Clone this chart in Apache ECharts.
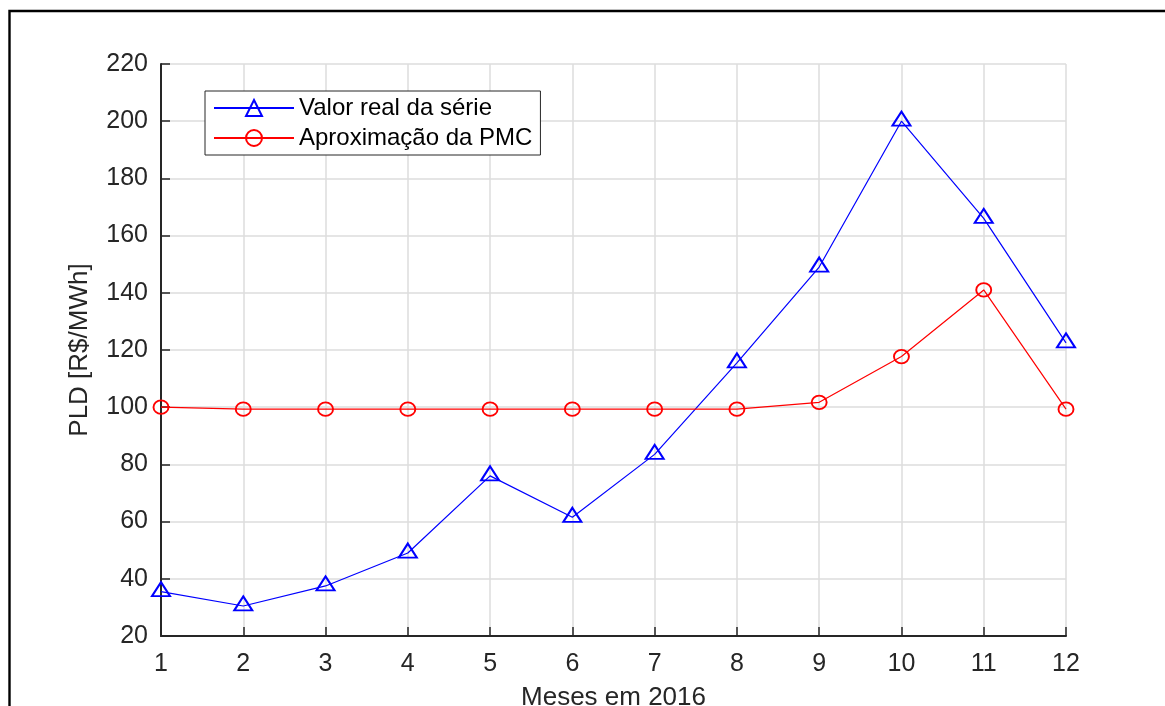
<!DOCTYPE html>
<html>
<head>
<meta charset="utf-8">
<script src="https://cdn.jsdelivr.net/npm/echarts@6/dist/echarts.min.js"></script>
<style>
html,body{margin:0;padding:0;background:#fff;}
#chart{width:1165px;height:706px;}
</style>
</head>
<body>
<div id="chart"></div>
<script>
const months = [1, 2, 3, 4, 5, 6, 7, 8, 9, 10, 11, 12];
const realValues = [35.5, 30.5, 37.5, 49, 76, 61.5, 83.5, 115.5, 149, 200, 166, 122.5];
const pmcValues = [100, 99.3, 99.3, 99.3, 99.3, 99.3, 99.3, 99.3, 101.7, 117.7, 141, 99.3];
const seriesNames = ['Valor real da série', 'Aproximação da PMC'];
const xAxisName = 'Meses em 2016';
const yAxisName = 'PLD [R$/MWh]';

const FONT = "'Liberation Sans', Arial, Helvetica, sans-serif";
const TXT = '#262626';

const chart = echarts.init(document.getElementById('chart'), null, {renderer: 'canvas', width: 1165, height: 706});

const option = {
  animation: false,
  backgroundColor: '#ffffff',
  textStyle: {fontFamily: FONT, color: TXT},
  graphic: [{
    type: 'rect',
    shape: {x: 9.5, y: 11, width: 1300, height: 900},
    style: {fill: 'none', stroke: '#000', lineWidth: 2.4},
    silent: true,
    z: 100
  }],
  grid: {left: 161, right: 99, top: 64, bottom: 70, containLabel: false, outerBoundsMode: 'none'},
  legend: {
    orient: 'vertical',
    left: 205,
    top: 91,
    padding: [5, 8, 5, 8],
    itemGap: 6,
    itemWidth: 80,
    itemHeight: 20,
    borderColor: '#262626',
    borderWidth: 1,
    backgroundColor: '#fff',
    textStyle: {fontFamily: FONT, fontSize: 24, color: '#000'},
    data: seriesNames
  },
  xAxis: {
    type: 'value',
    min: 1, max: 12, interval: 1,
    name: xAxisName,
    nameLocation: 'middle',
    nameGap: 49,
    nameTextStyle: {fontFamily: FONT, fontSize: 26, color: TXT},
    axisLine: {show: true, onZero: false, lineStyle: {color: TXT, width: 2}},
    axisTick: {show: true, inside: true, length: 9, lineStyle: {color: TXT, width: 1.5}},
    axisLabel: {fontFamily: FONT, fontSize: 25, color: TXT, margin: 16},
    splitLine: {show: true, lineStyle: {color: '#dcdcdc', width: 1.5}}
  },
  yAxis: {
    type: 'value',
    min: 20, max: 220, interval: 20,
    name: yAxisName,
    nameLocation: 'middle',
    nameGap: 68,
    nameRotate: 90,
    nameTextStyle: {fontFamily: FONT, fontSize: 26, color: TXT},
    axisLine: {show: true, onZero: false, lineStyle: {color: TXT, width: 2}},
    axisTick: {show: true, inside: true, length: 9, lineStyle: {color: TXT, width: 1.5}},
    axisLabel: {fontFamily: FONT, fontSize: 25, color: TXT, margin: 13},
    splitLine: {show: true, lineStyle: {color: '#dcdcdc', width: 1.5}}
  },
  series: [
    {
      name: seriesNames[0],
      type: 'line',
      data: months.map((m, i) => [m, realValues[i]]),
      symbol: 'triangle',
      symbolSize: [18, 14],
      symbolOffset: [0, -2.5],
      clip: false,
      lineStyle: {color: '#0000ff', width: 1.2},
      itemStyle: {color: 'rgba(0,0,0,0)', borderColor: '#0000ff', borderWidth: 2},
      emphasis: {disabled: true},
      z: 3
    },
    {
      name: seriesNames[1],
      type: 'line',
      data: months.map((m, i) => [m, pmcValues[i]]),
      symbol: 'circle',
      symbolSize: [15, 13.5],
      clip: false,
      lineStyle: {color: '#ff0000', width: 1.2},
      itemStyle: {color: 'rgba(0,0,0,0)', borderColor: '#ff0000', borderWidth: 1.8},
      emphasis: {disabled: true},
      z: 4
    }
  ]
};
chart.setOption(option);
</script>
</body>
</html>
